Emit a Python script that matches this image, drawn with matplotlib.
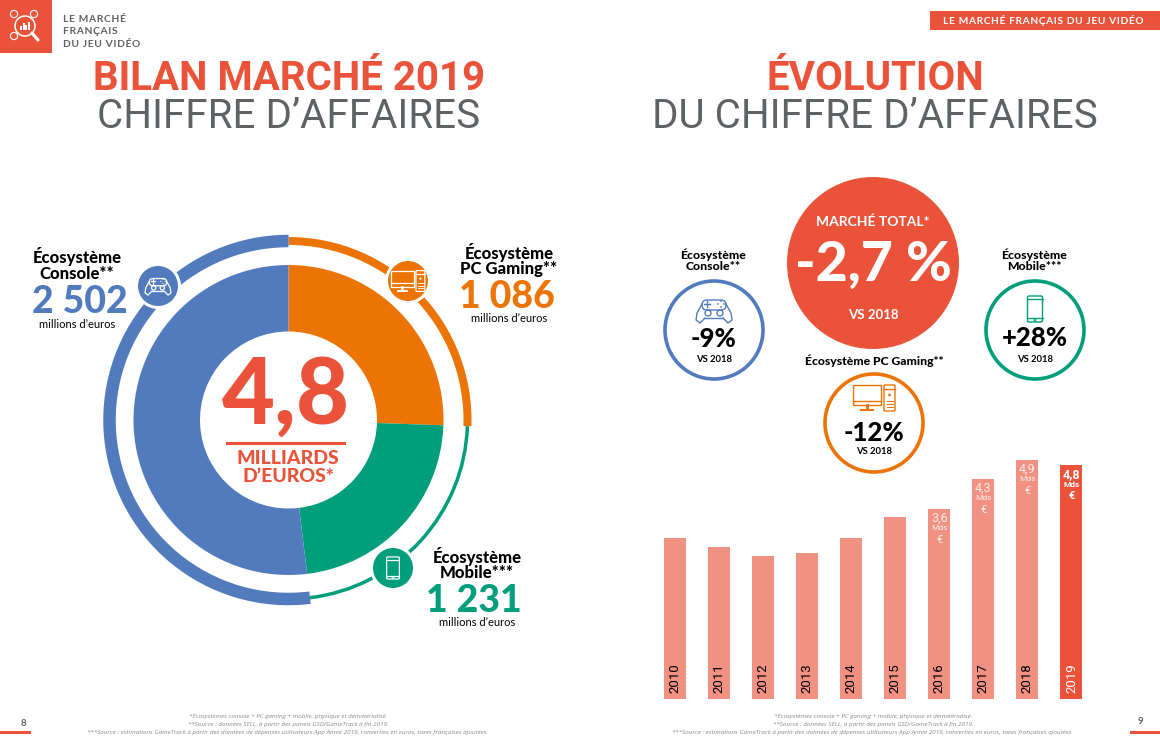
import matplotlib
matplotlib.use("Agg")
import matplotlib.pyplot as plt
from matplotlib.patches import Circle, Rectangle, FancyBboxPatch

RED = "#EA533A"
SALMON = "#F09182"
BLUE = "#527BBD"
ORANGE = "#EC7405"
GREEN = "#009E7B"
GREY = "#5F6265"

# draw order around the donut, as the picture has it
wedge_values = [1231, 1086, 2502]
wedge_colors = [ORANGE, GREEN, BLUE]
ring_widths = [8, 3.5, 12.5]

years = [2010, 2011, 2012, 2013, 2014, 2015, 2016, 2017, 2018, 2019]
bar_values = [3.22, 3.04, 2.86, 2.92, 3.22, 3.64, 3.80, 4.40, 4.78, 4.68]
bar_labels = {2016: "3,6", 2017: "4,3", 2018: "4,9", 2019: "4,8"}

W, H = 1160, 746
fig = plt.figure(figsize=(W / 100, H / 100), dpi=100)
bg = fig.add_axes([0, 0, 1, 1])
bg.set_xlim(0, W)
bg.set_ylim(H, 0)
bg.axis("off")


def txt(x, y, s, size, color="black", font="Lato", weight="normal", ha="center", **kw):
    return bg.text(x, y, s, fontsize=size, color=color, family=font, weight=weight,
                   ha=ha, va="center", zorder=10, **kw)


def spaced(s):
    return "\u200a".join(s)


def gamepad(x, y, c, lw=1.2, s=1.0):
    bg.add_patch(FancyBboxPatch((x - 12 * s, y - 9 * s), 24 * s, 10 * s,
                                boxstyle=f"round,pad=0,rounding_size={5 * s}",
                                fc="none", ec=c, lw=lw, zorder=9))
    xs = [12, 17, 18, 14, 9]
    ys = [-5, 4, 11, 14, 9]
    bg.plot([x - v * s for v in xs], [y + v * s for v in ys], color=c, lw=lw, zorder=9)
    bg.plot([x + v * s for v in xs], [y + v * s for v in ys], color=c, lw=lw, zorder=9)
    bg.plot([x - 9 * s, x + 9 * s], [y + 9 * s, y + 9 * s], color=c, lw=lw, zorder=9)
    bg.add_patch(Circle((x - 6 * s, y + 4 * s), 3 * s, fc="none", ec=c, lw=lw, zorder=9))
    bg.add_patch(Circle((x + 6 * s, y + 4 * s), 3 * s, fc="none", ec=c, lw=lw, zorder=9))
    bg.plot([x - 10 * s, x - 4 * s], [y - 5 * s, y - 5 * s], color=c, lw=lw, zorder=9)
    bg.plot([x - 7 * s, x - 7 * s], [y - 8 * s, y - 2 * s], color=c, lw=lw, zorder=9)
    for dx, dy in [(4, -5), (10, -5), (7, -8), (7, -2)]:
        bg.add_patch(Circle((x + dx * s, y + dy * s), 0.9 * s, fc=c, ec="none", zorder=9))


def computer(x, y, c, lw=1.2, s=1.0):
    bg.add_patch(Rectangle((x - 21 * s, y - 13 * s), 28 * s, 20 * s, fc="none", ec=c, lw=lw, zorder=9))
    bg.plot([x - 21 * s, x + 7 * s], [y + 3 * s, y + 3 * s], color=c, lw=lw, zorder=9)
    bg.plot([x - 7 * s, x - 7 * s], [y + 7 * s, y + 11 * s], color=c, lw=lw * 2, zorder=9)
    bg.plot([x - 13 * s, x - 1 * s], [y + 12 * s, y + 12 * s], color=c, lw=lw * 1.5, zorder=9)
    bg.add_patch(FancyBboxPatch((x + 10 * s, y - 13 * s), 11 * s, 26 * s,
                                boxstyle=f"round,pad=0,rounding_size={s}",
                                fc="none", ec=c, lw=lw, zorder=9))
    bg.plot([x + 10 * s, x + 21 * s], [y - 9 * s, y - 9 * s], color=c, lw=lw, zorder=9)
    bg.add_patch(Circle((x + 15.5 * s, y - 3 * s), 1.4 * s, fc=c, ec="none", zorder=9))
    for dy in [3, 6, 9]:
        bg.plot([x + 12.5 * s, x + 18.5 * s], [y + dy * s, y + dy * s], color=c, lw=lw * 0.7, zorder=9)


def phone(x, y, c, lw=1.2, s=1.0):
    bg.add_patch(FancyBboxPatch((x - 7.5 * s, y - 13 * s), 15 * s, 26 * s,
                                boxstyle=f"round,pad=0,rounding_size={1.5 * s}",
                                fc="none", ec=c, lw=lw, zorder=9))
    bg.plot([x - 7.5 * s, x + 7.5 * s], [y - 10 * s, y - 10 * s], color=c, lw=lw, zorder=9)
    bg.plot([x - 7.5 * s, x + 7.5 * s], [y + 9 * s, y + 9 * s], color=c, lw=lw, zorder=9)
    bg.add_patch(Circle((x, y + 11 * s), s, fc="none", ec=c, lw=lw * 0.7, zorder=9))


# header, footer
bg.add_patch(Rectangle((0, 0), 52, 52.5, fc=RED, ec="none"))
bg.add_patch(Circle((25, 26), 10, fc="none", ec="white", lw=1.1))
bg.plot([32, 38], [33, 40], color="white", lw=2.2, solid_capstyle="round")
for px, py in [(14, 14), (34, 14), (14, 36)]:
    bg.add_patch(Circle((px, py), 3.6, fc="none", ec="white", lw=0.8))
for i, hgt in enumerate([4, 7, 5, 8]):
    bg.add_patch(Rectangle((20 + i * 2.7, 30 - hgt), 1.8, hgt, fc="white", ec="none"))
for y, s in zip([19.5, 32, 44.5], ["LE MARCHÉ", "FRANÇAIS", "DU JEU VIDÉO"]):
    txt(63, y, spaced(s), 7.4, GREY, weight="bold", ha="left")
bg.add_patch(Rectangle((930, 11), 230, 19, fc=RED, ec="none"))
txt(1043, 20.5, spaced("LE MARCHÉ FRANÇAIS DU JEU VIDÉO"), 7.3, "white", weight="bold")

txt(289, 79, "BILAN MARCHÉ 2019", 29, RED, "Roboto", "bold")
txt(289, 116, "CHIFFRE D’AFFAIRES", 29, GREY, "Roboto", "normal")
txt(875, 79, "ÉVOLUTION", 29, RED, "Roboto", "bold")
txt(875, 116, "DU CHIFFRE D’AFFAIRES", 29, GREY, "Roboto", "normal")

notes = ["*Écosystèmes console + PC gaming + mobile, physique et dématérialisé.",
         "**Source : données SELL, à partir des panels GSD/GameTrack à fin 2019.",
         "***Source : estimations GameTrack à partir des données de dépenses utilisateurs App Annie 2019, converties en euros, taxes françaises ajoutées."]
for cx in (288, 873):
    for y, s in zip([716, 724.5, 732], notes):
        txt(cx, y, s, 4.5, "#888888", "Open Sans", style="italic")
txt(23, 723, "8", 7, GREY, weight="bold")
txt(1140, 722, "9", 7, GREY, weight="bold")
bg.add_patch(Rectangle((0, 731), 31, 2.5, fc=RED, ec="none"))
bg.add_patch(Rectangle((1130, 731), 30, 2.5, fc=RED, ec="none"))

# donut, inner pie and outer ring
cx, cy, R = 288.5, 420, 185
ax_d = fig.add_axes([(cx - R - 1) / W, 1 - (cy + R + 1) / H, (2 * R + 2) / W, (2 * R + 2) / H])
ax_d.pie(wedge_values, colors=wedge_colors, startangle=90, counterclock=False, radius=155 / 186,
         wedgeprops=dict(width=(155 - 88.5) / 186, linewidth=0))
r_mid = 179 / 186
start = 90
total = sum(wedge_values)
for val, col, w in zip(wedge_values, wedge_colors, ring_widths):
    ax_d.pie([val, total - val], colors=[col, "none"], startangle=start, counterclock=False,
             radius=r_mid + w / 2 / 186, wedgeprops=dict(width=w / 186, linewidth=0))
    start -= val / total * 360
ax_d.set_xlim(-1, 1)
ax_d.set_ylim(-1, 1)
ax_d.set_zorder(1)
bg.set_zorder(2)
bg.patch.set_alpha(0)

badges = [(158, 286, BLUE, gamepad, 0.72, 0, -1), (408, 281, ORANGE, computer, 0.8, 0, 0),
          (393, 568, GREEN, phone, 0.85, 0, 0)]
for x, y, c, icon, s, dx, dy in badges:
    bg.add_patch(Circle((x, y), 23, fc="white", ec="none", zorder=7))
    bg.add_patch(Circle((x, y), 20, fc=c, ec="none", zorder=8))
    icon(x + dx, y + dy, "white", 0.9, s)

txt(286, 398, "4,8", 66, RED, "Lato", "black")
bg.plot([227, 344], [443, 443], color=RED, lw=2.2)
txt(288, 459, "MILLIARDS", 14, RED, "Lato", "black")
txt(288, 477, "D’EUROS*", 14, RED, "Lato", "black")

side_labels = [(77, 257, "Écosystème", "Console**", 80, 302, "2 502", 77, 325, BLUE),
               (509, 252, "Écosystème", "PC Gaming**", 507, 297, "1 086", 509, 319, ORANGE),
               (477, 556, "Écosystème", "Mobile***", 474, 601, "1 231", 477, 622, GREEN)]
for x, y, a, b, vx, vy, v, mx, my, c in side_labels:
    txt(x, y, a, 12, weight="black")
    txt(x, y + 17, b, 12, weight="black")
    txt(vx, vy, v, 27, c, weight="black")
    txt(mx, my, "millions d’euros", 8)

# right page, circles
bg.add_patch(Circle((873, 263), 86, fc=RED, ec="none"))
txt(873, 222, "MARCHÉ TOTAL*", 10, "white", weight="bold")
txt(873, 265, "-2,7 %", 40, "white", weight="black")
txt(873, 315, "VS 2018", 9.5, "white", weight="bold")

rounds = [(714, 330, BLUE, "-9%", 339, "Écosystème\nConsole**", gamepad, 309),
          (1035, 330, GREEN, "+28%", 338, "Écosystème\nMobile***", phone, 309),
          (874, 423, ORANGE, "-12%", 433, "Écosystème PC Gaming**", computer, 398)]
for x, y, c, pct, py, lab, icon, iy in rounds:
    bg.add_patch(Circle((x, y), 49, fc="white", ec=c, lw=2.6))
    icon(x, iy, c, 1.0)
    txt(x, py, pct, 18.5, weight="black")
    txt(x, y + 29, "VS 2018", 6.8, weight="bold")
    if "\n" in lab:
        a, b = lab.split("\n")
        txt(x - 1, 255, a, 8.8, weight="black")
        txt(x - 1, 267, b, 8.8, weight="black")
    else:
        txt(x, 361, lab, 8.7, weight="black")

# bars
left, right, top, bottom = 631, 1115.5, 449, 699
ax_b = fig.add_axes([left / W, 1 - bottom / H, (right - left) / W, (bottom - top) / H])
ax_b.set_xlim(2009, 2020)
ax_b.set_ylim(0, 5)
ax_b.axis("off")
colors = [RED if y == 2019 else SALMON for y in years]
ax_b.bar(years, bar_values, width=0.5, color=colors, linewidth=0)
for yr, val, col in zip(years, bar_values, colors):
    ax_b.annotate(str(yr), (yr, 0), xytext=(0, 4), textcoords="offset points", rotation=90,
                  ha="center", va="bottom", fontsize=9.5, family="Roboto",
                  color="white" if yr == 2019 else "black")
    if yr in bar_labels:
        c = "white" if yr == 2019 else "#FDEDE9"
        w = "bold" if yr == 2019 else "normal"
        ax_b.annotate(bar_labels[yr], (yr, val), xytext=(0, -2), textcoords="offset points",
                      ha="center", va="top", fontsize=9, family="Roboto", weight=w, color=c)
        ax_b.annotate("Mds", (yr, val), xytext=(0, -11.5), textcoords="offset points",
                      ha="center", va="top", fontsize=6, family="Roboto", weight=w, color=c)
        ax_b.annotate("€", (yr, val), xytext=(0, -18.5), textcoords="offset points",
                      ha="center", va="top", fontsize=8, family="Roboto", weight=w, color=c)

fig.savefig("out.png", dpi=100)
